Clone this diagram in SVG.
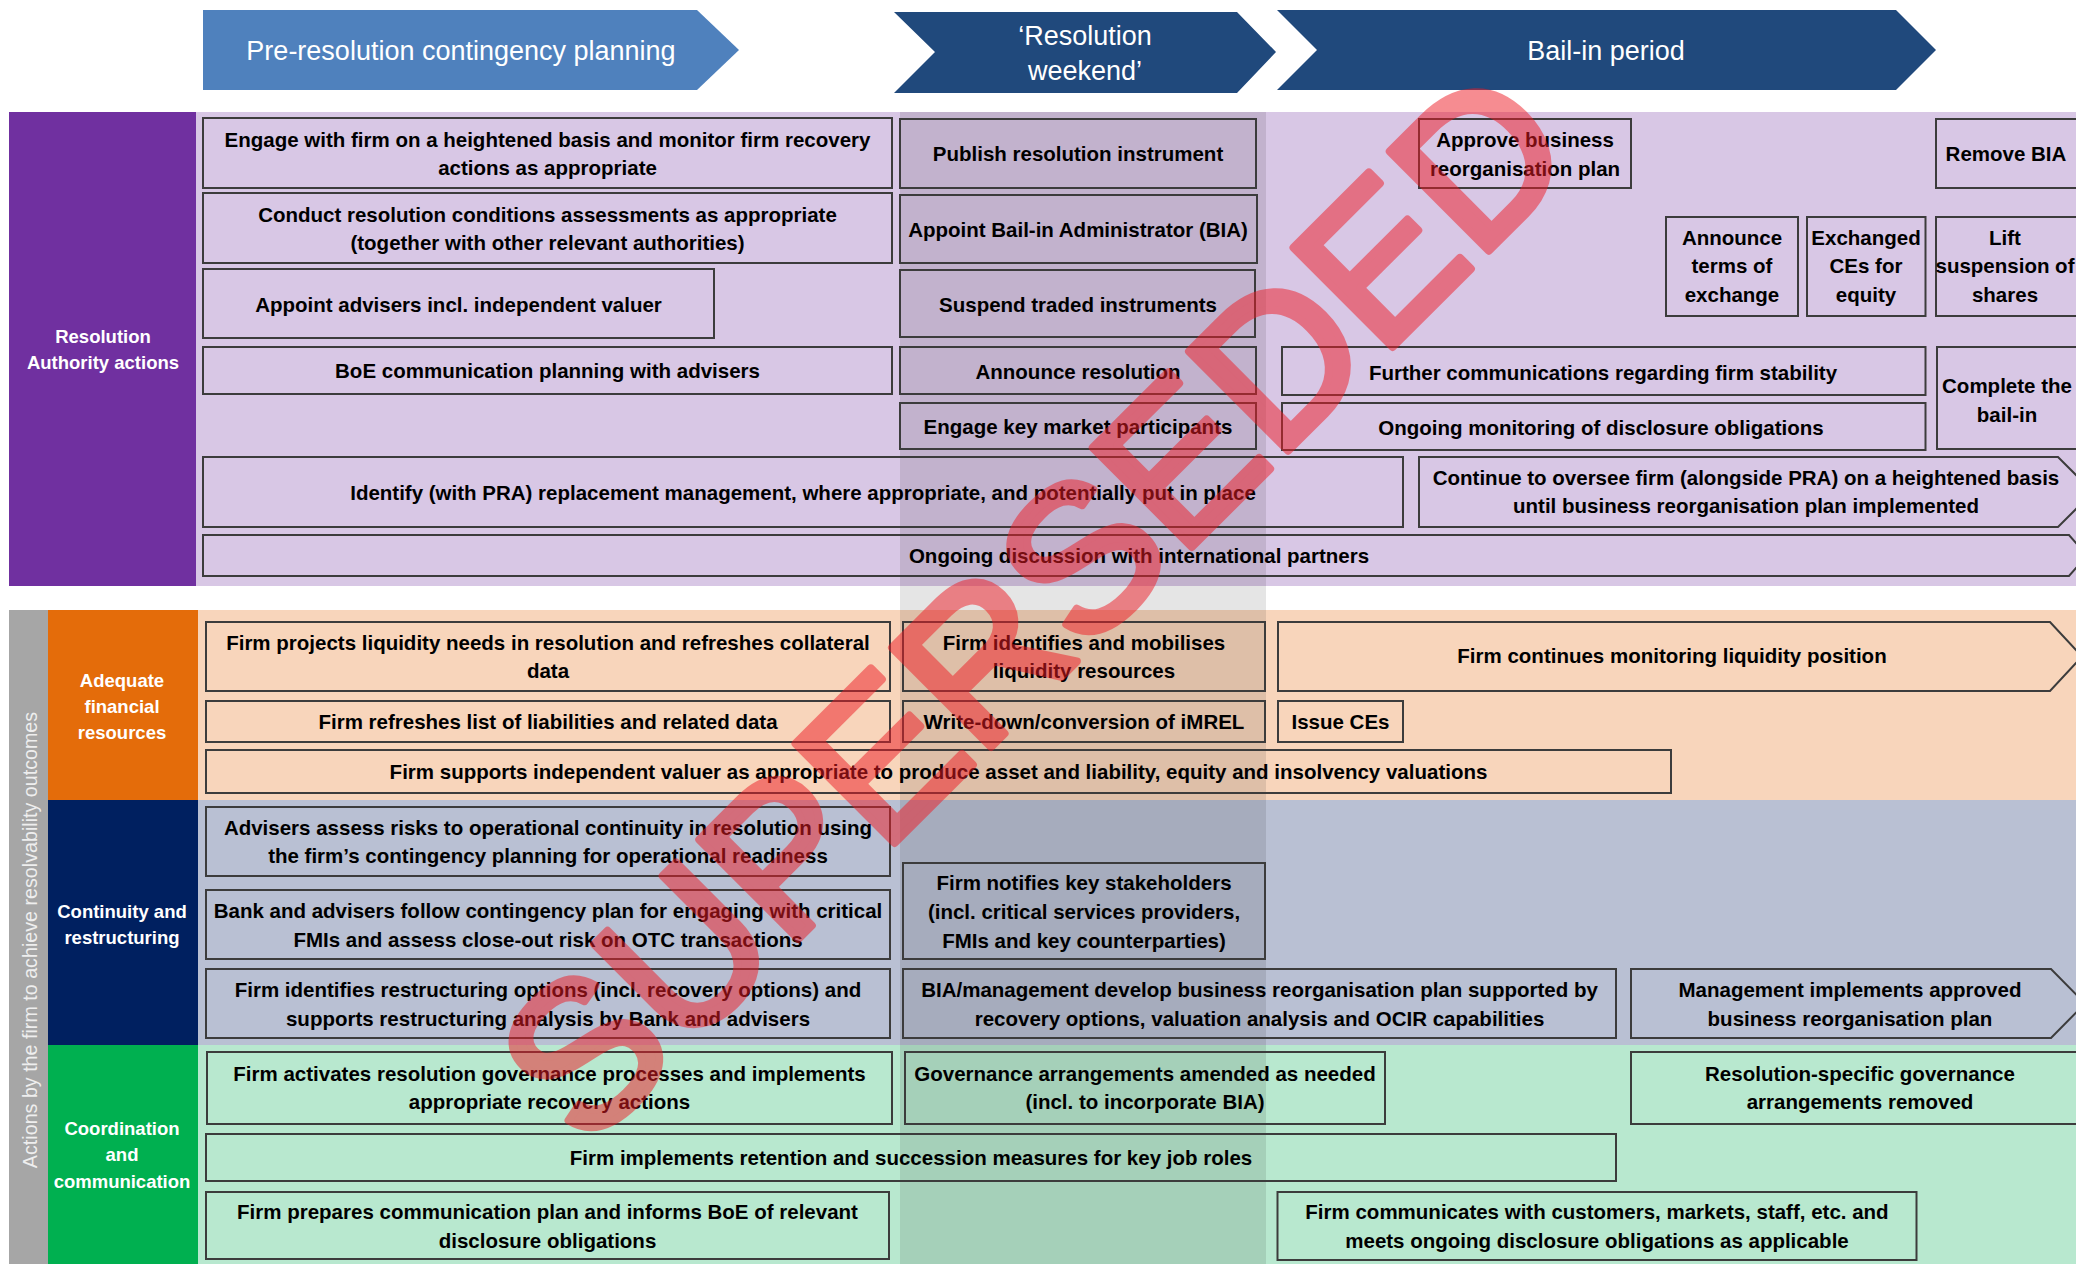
<svg xmlns="http://www.w3.org/2000/svg" width="2076" height="1264" viewBox="0 0 2076 1264">
<style>
.box{fill:none;stroke:#3c3c3c;stroke-width:2}
.t{font-family:"Liberation Sans",Arial,sans-serif;font-weight:bold;font-size:20.5px;fill:#000;text-anchor:middle}
.lbl{font-family:"Liberation Sans",Arial,sans-serif;font-weight:bold;font-size:18.5px;fill:#fff;text-anchor:middle}
.ban{font-family:"Liberation Sans",Arial,sans-serif;font-size:27px;fill:#fff;text-anchor:middle}
.vt{font-family:"Liberation Sans",Arial,sans-serif;font-size:19.7px;fill:#eeeeee;text-anchor:middle}
.wm{font-family:"Liberation Sans",Arial,sans-serif;font-size:204px;fill:#ee1c25;stroke:#ee1c25;stroke-width:8;stroke-linejoin:round;opacity:.5;text-anchor:middle}
</style>
<rect width="2076" height="1264" fill="#fff"/>
<g id="bands">
<rect x="196" y="112" width="1880" height="474" fill="#d8c7e5"/>
<rect x="198" y="610" width="1878" height="190" fill="#f8d5bb"/>
<rect x="198" y="800" width="1878" height="245" fill="#b9c0d3"/>
<rect x="198" y="1045" width="1878" height="219" fill="#b8e8cf"/>
</g>
<g id="banner-pre"><polygon points="203,10 697,10 739,50 697,90 203,90" fill="#4f81bd"/><text class="ban" x="461" y="60">Pre-resolution contingency planning</text></g>
<g id="banner-weekend"><polygon points="894,12 1237,12 1276,52 1237,93 894,93 935,52" fill="#20497c"/><text class="ban"><tspan x="1085" y="45">‘Resolution</tspan><tspan x="1085" y="80">weekend’</tspan></text></g>
<g id="banner-bailin"><polygon points="1277,10 1896,10 1936,50 1896,90 1277,90 1317,50" fill="#20497c"/><text class="ban" x="1606" y="60">Bail-in period</text></g>
<g id="label-ra"><rect x="9" y="112" width="187" height="474" fill="#7030a0"/><text class="lbl"><tspan x="103" y="343">Resolution</tspan><tspan x="103" y="369">Authority actions</tspan></text></g>
<g id="label-firm"><rect x="9" y="610" width="39" height="654" fill="#a6a6a6"/><text class="vt" transform="translate(36.5,940) rotate(-90)" x="0" y="0">Actions by the firm to achieve resolvability outcomes</text></g>
<g id="label-afr"><rect x="48" y="610" width="150" height="190" fill="#e46c0a"/><text class="lbl"><tspan x="122" y="687">Adequate</tspan><tspan x="122" y="713">financial</tspan><tspan x="122" y="739">resources</tspan></text></g>
<g id="label-cr"><rect x="48" y="800" width="150" height="245" fill="#002060"/><text class="lbl"><tspan x="122" y="918">Continuity and</tspan><tspan x="122" y="944">restructuring</tspan></text></g>
<g id="label-cc"><rect x="48" y="1045" width="150" height="219" fill="#00b050"/><text class="lbl"><tspan x="122" y="1135">Coordination</tspan><tspan x="122" y="1161">and</tspan><tspan x="122" y="1188">communication</tspan></text></g>
<rect id="weekend-shade" x="900" y="112" width="366" height="1152" fill="#000" opacity=".1"/>
<g id="connectors"/>
<g id="a1"><rect class="box" x="203" y="118" width="689" height="70"/><text class="t"><tspan x="547.5" y="147">Engage with firm on a heightened basis and monitor firm recovery</tspan><tspan x="547.5" y="175">actions as appropriate</tspan></text></g>
<g id="a2"><rect class="box" x="203" y="193" width="689" height="70"/><text class="t"><tspan x="547.5" y="222">Conduct resolution conditions assessments as appropriate</tspan><tspan x="547.5" y="250">(together with other relevant authorities)</tspan></text></g>
<g id="a3"><rect class="box" x="203" y="269" width="511" height="69"/><text class="t" x="458.5" y="312">Appoint advisers incl. independent valuer</text></g>
<g id="a4"><rect class="box" x="203" y="347" width="689" height="47"/><text class="t" x="547.5" y="378">BoE communication planning with advisers</text></g>
<g id="a5"><rect class="box" x="203" y="457" width="1200" height="70"/><text class="t" x="803" y="500">Identify (with PRA) replacement management, where appropriate, and potentially put in place</text></g>
<g id="a6"><polygon class="box" points="203,535 2069,535 2087,555.5 2069,576 203,576"/><text class="t" x="1139" y="563">Ongoing discussion with international partners</text></g>
<g id="b1"><rect class="box" x="900" y="119" width="356" height="69"/><text class="t" x="1078" y="161">Publish resolution instrument</text></g>
<g id="b2"><rect class="box" x="900" y="195" width="357" height="68"/><text class="t" x="1078" y="237">Appoint Bail-in Administrator (BIA)</text></g>
<g id="b3"><rect class="box" x="900" y="270" width="355" height="67"/><text class="t" x="1078" y="312">Suspend traded instruments</text></g>
<g id="b4"><rect class="box" x="900" y="347" width="356" height="47"/><text class="t" x="1078" y="379">Announce resolution</text></g>
<g id="b5"><rect class="box" x="900" y="403" width="356" height="46"/><text class="t" x="1078" y="434">Engage key market participants</text></g>
<g id="c1"><rect class="box" x="1419" y="119" width="212" height="69"/><text class="t"><tspan x="1525" y="147">Approve business</tspan><tspan x="1525" y="176">reorganisation plan</tspan></text></g>
<g id="c2"><rect class="box" x="1936" y="119" width="150" height="69"/><text class="t" x="2006" y="161">Remove BIA</text></g>
<g id="c3"><rect class="box" x="1666" y="217" width="132" height="99"/><text class="t"><tspan x="1732" y="245">Announce</tspan><tspan x="1732" y="273">terms of</tspan><tspan x="1732" y="302">exchange</tspan></text></g>
<g id="c4"><rect class="box" x="1807" y="217" width="118.5" height="99"/><text class="t"><tspan x="1866" y="245">Exchanged</tspan><tspan x="1866" y="273">CEs for</tspan><tspan x="1866" y="302">equity</tspan></text></g>
<g id="c5"><rect class="box" x="1936" y="217" width="150" height="99"/><text class="t"><tspan x="2005" y="245">Lift</tspan><tspan x="2005" y="273">suspension of</tspan><tspan x="2005" y="302">shares</tspan></text></g>
<g id="c6"><rect class="box" x="1282" y="347" width="643.5" height="48"/><text class="t" x="1603" y="380">Further communications regarding firm stability</text></g>
<g id="c7"><rect class="box" x="1937" y="347" width="150" height="102"/><text class="t"><tspan x="2007" y="393">Complete the</tspan><tspan x="2007" y="422">bail-in</tspan></text></g>
<g id="c8"><rect class="box" x="1282" y="403" width="643.5" height="47"/><text class="t" x="1601" y="435">Ongoing monitoring of disclosure obligations</text></g>
<g id="c9"><polygon class="box" points="1419,457 2058,457 2093,492 2058,527 1419,527"/><text class="t"><tspan x="1746" y="485">Continue to oversee firm (alongside PRA) on a heightened basis</tspan><tspan x="1746" y="513">until business reorganisation plan implemented</tspan></text></g>
<g id="d1"><rect class="box" x="206" y="622" width="684" height="69"/><text class="t"><tspan x="548" y="650">Firm projects liquidity needs in resolution and refreshes collateral</tspan><tspan x="548" y="678">data</tspan></text></g>
<g id="d2"><rect class="box" x="206" y="701" width="684" height="41"/><text class="t" x="548" y="729">Firm refreshes list of liabilities and related data</text></g>
<g id="d3"><rect class="box" x="206" y="750" width="1465" height="43"/><text class="t" x="938.5" y="779">Firm supports independent valuer as appropriate to produce asset and liability, equity and insolvency valuations</text></g>
<g id="e1"><rect class="box" x="903" y="622" width="362" height="69"/><text class="t"><tspan x="1084" y="650">Firm identifies and mobilises</tspan><tspan x="1084" y="678">liquidity resources</tspan></text></g>
<g id="e2"><rect class="box" x="903" y="701" width="362" height="41"/><text class="t" x="1084" y="729">Write-down/conversion of iMREL</text></g>
<g id="f1"><polygon class="box" points="1278,622 2050,622 2082,656.5 2050,691 1278,691"/><text class="t" x="1672" y="663">Firm continues monitoring liquidity position</text></g>
<g id="f2"><rect class="box" x="1278" y="701" width="125" height="41"/><text class="t" x="1340.5" y="729">Issue CEs</text></g>
<g id="g1"><rect class="box" x="206" y="807" width="684" height="69"/><text class="t"><tspan x="548" y="835">Advisers assess risks to operational continuity in resolution using</tspan><tspan x="548" y="863">the firm’s contingency planning for operational readiness</tspan></text></g>
<g id="g2"><rect class="box" x="206" y="890" width="684" height="69"/><text class="t"><tspan x="548" y="917.5">Bank and advisers follow contingency plan for engaging with critical</tspan><tspan x="548" y="946.5">FMIs and assess close-out risk on OTC transactions</tspan></text></g>
<g id="g3"><rect class="box" x="206" y="969" width="684" height="69"/><text class="t"><tspan x="548" y="997">Firm identifies restructuring options (incl. recovery options) and</tspan><tspan x="548" y="1026">supports restructuring analysis by Bank and advisers</tspan></text></g>
<g id="h1"><rect class="box" x="903" y="863" width="362" height="96"/><text class="t"><tspan x="1084" y="890">Firm notifies key stakeholders</tspan><tspan x="1084" y="919">(incl. critical services providers,</tspan><tspan x="1084" y="948">FMIs and key counterparties)</tspan></text></g>
<g id="h2"><rect class="box" x="903" y="969" width="713" height="69"/><text class="t"><tspan x="1259.5" y="997">BIA/management develop business reorganisation plan supported by</tspan><tspan x="1259.5" y="1026">recovery options, valuation analysis and OCIR capabilities</tspan></text></g>
<g id="h3"><polygon class="box" points="1631,969 2051,969 2085,1003.5 2051,1038 1631,1038"/><text class="t"><tspan x="1850" y="997">Management implements approved</tspan><tspan x="1850" y="1026">business reorganisation plan</tspan></text></g>
<g id="i1"><rect class="box" x="207" y="1052" width="685" height="72"/><text class="t"><tspan x="549.5" y="1081">Firm activates resolution governance processes and implements</tspan><tspan x="549.5" y="1109">appropriate recovery actions</tspan></text></g>
<g id="i2"><rect class="box" x="206" y="1134" width="1410" height="47"/><text class="t" x="911" y="1165">Firm implements retention and succession measures for key job roles</text></g>
<g id="i3"><rect class="box" x="206" y="1192" width="683" height="67"/><text class="t"><tspan x="547.5" y="1219">Firm prepares communication plan and informs BoE of relevant</tspan><tspan x="547.5" y="1248">disclosure obligations</tspan></text></g>
<g id="j1"><rect class="box" x="905" y="1052" width="480" height="72"/><text class="t"><tspan x="1145" y="1081">Governance arrangements amended as needed</tspan><tspan x="1145" y="1109">(incl. to incorporate BIA)</tspan></text></g>
<g id="k1"><rect class="box" x="1631" y="1052" width="458" height="72"/><text class="t"><tspan x="1860" y="1081">Resolution-specific governance</tspan><tspan x="1860" y="1109">arrangements removed</tspan></text></g>
<g id="k2"><rect class="box" x="1277.5" y="1192" width="639" height="68"/><text class="t"><tspan x="1597" y="1219">Firm communicates with customers, markets, staff, etc. and</tspan><tspan x="1597" y="1248">meets ongoing disclosure obligations as applicable</tspan></text></g>
<g id="watermark"><text class="wm" x="0" y="73" transform="translate(1032,603) rotate(-44.9)">SUPERSEDED</text></g>
</svg>
